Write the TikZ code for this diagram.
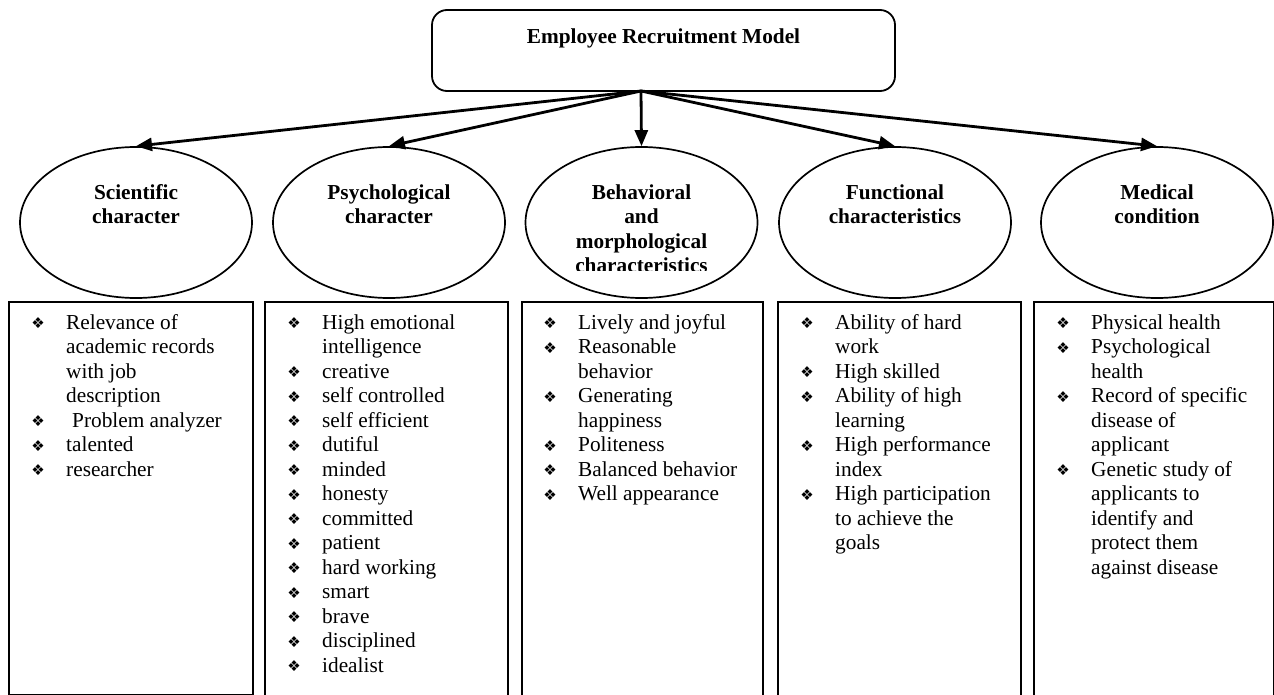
\documentclass[tikz,border=0pt]{standalone}
\usepackage{fontspec}
\setmainfont{Liberation Serif}
\newfontfamily\dingfont{DejaVu Sans}
\usetikzlibrary{shapes.geometric,arrows.meta}

% list helpers: bullet with hanging indent, and continuation indent
\newcommand\bul{\strut\makebox[34pt][l]{\makebox[12pt][c]{\raisebox{0.5pt}{\dingfont\fontsize{15}{15}\selectfont ❖}}}}
\newcommand\cont{\strut\hspace*{34pt}}

\tikzset{
  hdr/.style={draw, line width=1.8pt, rounded corners=15pt, minimum width=463pt, minimum height=81pt, inner sep=0},
  oval/.style={draw, ellipse, line width=1.7pt, minimum width=232pt, minimum height=151pt, inner sep=0},
  title/.style={font=\bfseries\fontsize{21.3}{24.5}\selectfont, align=center, anchor=north, inner sep=0},
  panel/.style={draw, line width=1.8pt, anchor=north west, inner sep=0, minimum height=430pt},
  listtext/.style={font=\fontsize{21.3}{24.5}\selectfont, align=left, anchor=north west, inner sep=0},
  link/.style={line width=2.8pt, -{Triangle[length=16pt,width=13pt]}}
}

\begin{document}
\begin{tikzpicture}[x=1pt,y=1pt]
\useasboundingbox (0,0) rectangle (1274,-695);
\clip (0,0) rectangle (1274,-695);

% header
\node[hdr] (top) at (663.5,-50.5) {};
\node[font=\bfseries\fontsize{21.3}{24.5}\selectfont, anchor=base, inner sep=0] (toptext) at (663.5,-44) {Employee Recruitment Model};
\coordinate (hub) at (641,-91);

% category ovals
\node[oval] (e1) at (136,-222.5) {};
\node[oval] (e2) at (389,-222.5) {};
\node[oval] (e3) at (641.5,-222.5) {};
\node[oval] (e4) at (895,-222.5) {};
\node[oval] (e5) at (1157,-222.5) {};

\node[title] (t1) at (136,-182) {\strut Scientific\\character};
\node[title] (t2) at (389,-182) {\strut Psychological\\character};
\begin{scope}
  % the last title line is cut off at the foot of the oval
  \clip (520,-150) rectangle (760,-270);
  \node[title] (t3) at (641.5,-182) {\strut Behavioral\\and\\morphological\\characteristics};
\end{scope}
\node[title] (t4) at (895,-182) {\strut Functional\\characteristics};
\node[title] (t5) at (1157,-182) {\strut Medical\\condition};

% connectors
\foreach \e in {e1,e2,e3,e4,e5}
  \draw[link] (hub) -- (\e.north);

% lists
\node[panel, minimum width=244pt, minimum height=393pt] (b1) at (8,-301) {};
\node[panel, minimum width=243pt] (b2) at (264,-301) {};
\node[panel, minimum width=241pt] (b3) at (521,-301) {};
\node[panel, minimum width=243pt] (b4) at (777,-301) {};
\node[panel, minimum width=240pt] (b5) at (1033,-301) {};

\node[listtext] (l1) at ([xshift=24pt,yshift=-11pt]b1.north west) {%
\bul Relevance of\\
\cont academic records\\
\cont with job\\
\cont description\\
\bul\hspace{6pt}Problem analyzer\\
\bul talented\\
\bul researcher};

\node[listtext] (l2) at ([xshift=24pt,yshift=-11pt]b2.north west) {%
\bul High emotional\\
\cont intelligence\\
\bul creative\\
\bul self controlled\\
\bul self efficient\\
\bul dutiful\\
\bul minded\\
\bul honesty\\
\bul committed\\
\bul patient\\
\bul hard working\\
\bul smart\\
\bul brave\\
\bul disciplined\\
\bul idealist};

\node[listtext] (l3) at ([xshift=23pt,yshift=-11pt]b3.north west) {%
\bul Lively and joyful\\
\bul Reasonable\\
\cont behavior\\
\bul Generating\\
\cont happiness\\
\bul Politeness\\
\bul Balanced behavior\\
\bul Well appearance};

\node[listtext] (l4) at ([xshift=24pt,yshift=-11pt]b4.north west) {%
\bul Ability of hard\\
\cont work\\
\bul High skilled\\
\bul Ability of high\\
\cont learning\\
\bul High performance\\
\cont index\\
\bul High participation\\
\cont to achieve the\\
\cont goals};

\node[listtext] (l5) at ([xshift=24pt,yshift=-11pt]b5.north west) {%
\bul Physical health\\
\bul Psychological\\
\cont health\\
\bul Record of specific\\
\cont disease of\\
\cont applicant\\
\bul Genetic study of\\
\cont applicants to\\
\cont identify and\\
\cont protect them\\
\cont against disease};
\end{tikzpicture}
\end{document}
